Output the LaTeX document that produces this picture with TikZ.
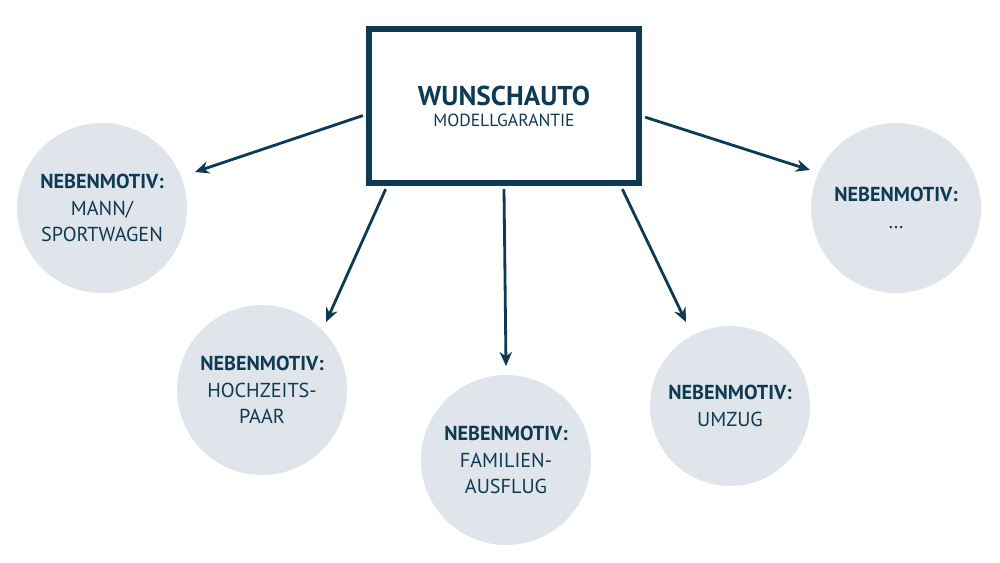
\documentclass[tikz,border=0pt]{standalone}
\usepackage{fontspec}
\setmainfont{PT Sans}
\usetikzlibrary{calc,arrows.meta}
\definecolor{navy}{HTML}{0E3A53}
\definecolor{pale}{HTML}{DFE5EA}
\begin{document}
\begin{tikzpicture}[x=0.02cm,y=-0.02cm,
  bubble/.style={circle,fill=pale,inner sep=0pt,align=center,text=navy,font=\fontsize{11.5}{15}\selectfont},
  link/.style={navy,line width=1.6pt,-{Stealth[length=8pt,width=7pt]}}]
\useasboundingbox (0,0) rectangle (1000,562);
\node[draw=navy,line width=3pt,text=navy,align=center,
  minimum width=5.4cm,minimum height=3.08cm] (box) at (504,106)
  {\fontsize{15.5}{22}\selectfont\textbf{WUNSCHAUTO}\\MODELLGARANTIE};
\node[bubble,minimum size=3.4cm] (c1) at (102,208) {\textbf{NEBENMOTIV:}\\MANN/\\SPORTWAGEN};
\node[bubble,minimum size=3.4cm] (c2) at (262,390) {\textbf{NEBENMOTIV:}\\HOCHZEITS-\\PAAR};
\node[bubble,minimum size=3.4cm] (c3) at (506,460) {\textbf{NEBENMOTIV:}\\FAMILIEN-\\AUSFLUG};
\node[bubble,minimum size=3.2cm] (c4) at (730,406) {\textbf{NEBENMOTIV:}\\UMZUG};
\node[bubble,minimum size=3.4cm] (c5) at (896,208) {\textbf{NEBENMOTIV:}\\\dots};
\coordinate (s1) at ($(box.north west)!0.56!(box.south west)$);
\coordinate (s5) at ($(box.north east)!0.57!(box.south east)$);
\coordinate (s2) at ($(box.south west)!0.07!(box.south east)$);
\coordinate (s3) at ($(box.south west)!0.5!(box.south east)$);
\coordinate (s4) at ($(box.south west)!0.93!(box.south east)$);
\draw[link] ([xshift=-2pt]s1) -- (195,172);
\draw[link] ([yshift=-2pt]s2) -- (326,322);
\draw[link] ([yshift=-2pt]s3) -- (506,366);
\draw[link] ([yshift=-2pt]s4) -- (686,322);
\draw[link] ([xshift=2pt]s5) -- (810,170);
\end{tikzpicture}
\end{document}
